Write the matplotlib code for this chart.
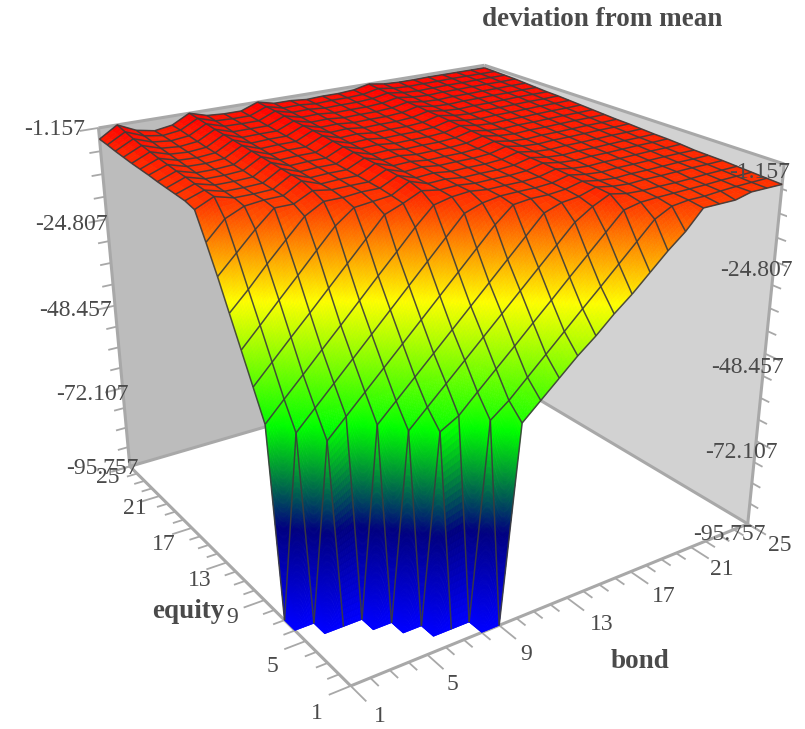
import numpy as np
import matplotlib
matplotlib.use('Agg')
import matplotlib.pyplot as plt
from matplotlib.colors import LinearSegmentedColormap, Normalize
from mpl_toolkits.mplot3d import proj3d
from mpl_toolkits.mplot3d.art3d import Poly3DCollection, Line3DCollection

Z_MIN, Z_MAX = -95.757, -1.157
F = Z_MIN
N = np.nan

bond = list(range(1, 26))
equity = list(range(1, 26))
z_ticks = [-1.157, -24.807, -48.457, -72.107, -95.757]
xy_ticks = [1, 5, 9, 13, 17, 21, 25]

# one row per equity (1 to 25), one column per bond (1 to 25)
deviation = [
    [N, N, N, N, N, N, N, F, F, -46, -42, -38, -34, -30.5, -26.5, -23, -19, -15, -11.5, -7, -7, -7, -6, -6, -6],
    [N, N, N, N, N, F, F, F, -46, -42.6, -38.4, -34.2, -30, -25.8, -21.7, -17.5, -13.3, -9.1, -7, -6.5, -6.5, -6.2, -6, -5.9, -5.8],
    [N, N, N, N, F, F, -48, -45.5, -41.2, -37, -32.8, -28.5, -24.3, -20, -15.8, -11.6, -7.4, -6.5, -6.3, -6.2, -6.1, -6, -5.8, -5.7, -5.6],
    [N, N, N, F, F, -48.4, -44.1, -39.8, -35.5, -31.2, -26.9, -22.6, -18.3, -14, -9.7, -7, -5, -5.8, -6, -5.9, -5.9, -5.8, -5.6, -5.5, -5.4],
    [N, F, F, F, -47.6, -43.2, -38.8, -34.4, -30, -25.6, -21.2, -16.8, -12.4, -8, -6.5, -6, -4.7, -5.4, -5.7, -5.5, -5.5, -5.4, -5.3, -5.3, -5.2],
    [F, F, -50.7, -46.2, -41.7, -37.2, -32.7, -28.2, -23.7, -19.2, -14.7, -10.2, -6.5, -6, -6, -5.6, -4.6, -5.3, -5.6, -5.4, -5.4, -5.3, -5.2, -5.2, -5.1],
    [F, -49.4, -44.8, -40.2, -35.6, -31, -26.4, -21.8, -17.2, -12.6, -8, -6.5, -5.8, -5.7, -5.7, -5.4, -4.4, -5.1, -5.4, -5.2, -5.2, -5.1, -5, -5, -5],
    [-48, -43.3, -38.7, -34, -29.4, -24.7, -20, -15.4, -10.7, -6.5, -5.5, -5.1, -5.6, -5.5, -5.5, -5.2, -4.2, -4.9, -5.2, -5, -5, -4.9, -4.8, -4.8, -4.7],
    [-41, -36.3, -31.6, -27, -22.3, -17.6, -12.9, -8.2, -6.5, -4.5, -5.2, -5, -5.4, -5.3, -5.3, -5, -4, -4.7, -5, -4.8, -4.8, -4.7, -4.6, -4.6, -4.5],
    [-34, -29.3, -24.5, -19.8, -15, -10.3, -7, -6.5, -6, -3.6, -5, -4.8, -5.3, -5.2, -5.2, -4.9, -3.9, -4.6, -4.9, -4.7, -4.7, -4.6, -4.5, -4.5, -4.4],
    [-27, -22.5, -17.6, -13, -8.5, -6, -6, -5.6, -5.6, -3.5, -4.9, -4.6, -5.1, -5, -5, -4.7, -3.7, -4.4, -4.7, -4.5, -4.5, -4.4, -4.3, -4.3, -4.2],
    [-20, -15.5, -11, -7, -7, -4.8, -5.5, -5.4, -5.4, -3.3, -4.7, -4.4, -4.9, -4.8, -4.8, -4.5, -3.5, -4.2, -4.5, -4.3, -4.3, -4.2, -4.1, -4.1, -4],
    [-13.5, -9, -7, -6.5, -6.4, -3.8, -5.4, -5.2, -5.2, -3.1, -4.5, -4.3, -4.8, -4.7, -4.7, -4.4, -3.4, -4.1, -4.4, -4.2, -4.2, -4.1, -4, -4, -3.9],
    [-7.3, -5.2, -6.4, -6.4, -6.2, -3.6, -5.2, -5, -5, -3, -4.3, -4.1, -4.6, -4.5, -4.5, -4.2, -3.2, -3.9, -4.2, -4, -4, -3.9, -3.8, -3.8, -3.7],
    [-6.6, -5, -6.2, -6.2, -6, -3.4, -5, -4.8, -4.8, -2.8, -4.1, -3.9, -4.4, -4.3, -4.3, -4, -3, -3.7, -4, -3.8, -3.8, -3.7, -3.6, -3.6, -3.5],
    [-6.4, -4.8, -6, -6, -5.8, -3.2, -4.8, -4.6, -4.6, -2.6, -3.9, -3.7, -4.2, -4.1, -4.1, -3.8, -2.8, -3.5, -3.8, -3.6, -3.6, -3.5, -3.4, -3.4, -3.3],
    [-6.2, -4.5, -5.8, -5.8, -5.5, -3, -4.6, -4.4, -4.4, -2.4, -3.7, -3.5, -4, -3.9, -3.9, -3.6, -2.6, -3.3, -3.6, -3.4, -3.4, -3.3, -3.2, -3.2, -3.1],
    [-6, -4.3, -5.6, -5.6, -5.3, -2.8, -4.4, -4.2, -4.2, -2.2, -3.5, -3.3, -3.8, -3.7, -3.7, -3.4, -2.4, -3.1, -3.4, -3.2, -3.2, -3.1, -3, -3, -2.9],
    [-5.7, -4, -5.3, -5.4, -5, -2.6, -4.2, -4, -4, -2, -3.3, -3.1, -3.6, -3.5, -3.5, -3.2, -2.3, -2.9, -3.2, -3, -3, -2.9, -2.8, -2.8, -2.8],
    [-5.5, -3.7, -5, -5.2, -4.8, -2.4, -4, -3.8, -3.8, -1.9, -3.1, -3, -3.4, -3.3, -3.3, -3, -2.1, -2.8, -3, -2.8, -2.8, -2.7, -2.7, -2.6, -2.6],
    [-5.3, -3.3, -4.7, -5, -4.6, -2.2, -3.7, -3.6, -3.6, -1.8, -2.9, -2.8, -3.2, -3.1, -3.1, -2.8, -2, -2.6, -2.8, -2.6, -2.6, -2.5, -2.5, -2.4, -2.4],
    [-5, -2.9, -4.4, -4.8, -4.3, -2, -3.4, -3.4, -3.4, -1.6, -2.7, -2.6, -3, -2.9, -2.9, -2.6, -1.8, -2.4, -2.6, -2.4, -2.4, -2.3, -2.3, -2.3, -2.2],
    [-4.7, -2.4, -4, -4.5, -4, -1.7, -3.1, -3.2, -3.2, -1.4, -2.5, -2.4, -2.8, -2.7, -2.7, -2.4, -1.6, -2.2, -2.4, -2.3, -2.2, -2.2, -2.1, -2.1, -2.1],
    [-4.3, -1.8, -3.6, -4.3, -3.7, -1.4, -2.8, -3, -3, -1.3, -2.4, -2.3, -2.7, -2.5, -2.5, -2.3, -1.4, -2, -2.2, -2.1, -2.1, -2, -2, -2, -2],
    [-4, -1.157, -3.3, -4.2, -3.5, -1.157, -2.5, -2.8, -2.8, -1.157, -2.2, -2.2, -2.6, -2.4, -2.4, -2.1, -1.157, -1.8, -2, -2, -1.9, -1.9, -1.9, -1.9, -1.9],
]

GREY = '#a8a8a8'
TEXT = '#4a4a4a'
SERIF = 'Liberation Serif'

fig = plt.figure(figsize=(8.05, 7.29), dpi=100)
ax = fig.add_subplot(projection='3d', computed_zorder=False)
ax.set_xlim(1, 25, view_margin=0)
ax.set_ylim(1, 25, view_margin=0)
ax.set_zlim(Z_MIN, Z_MAX, view_margin=0)
ax.view_init(elev=23.5574, azim=-124.0502)
ax.set_proj_type('persp', focal_length=0.3658)
ax.set_box_aspect((1, 0.9834, 0.8064))
size = 739.19
ax.set_position([(417.76 - size / 2) / 805, (729 - 338.71 - size / 2) / 729, size / 805, size / 729])
ax.set_axis_off()
ax.patch.set_alpha(0)

# walls
left_wall = [(1, 25, Z_MIN), (25, 25, Z_MIN), (25, 25, Z_MAX), (1, 25, Z_MAX)]
right_wall = [(25, 1, Z_MIN), (25, 25, Z_MIN), (25, 25, Z_MAX), (25, 1, Z_MAX)]
ax.add_collection3d(Poly3DCollection([left_wall], facecolors='#bcbcbc', edgecolors='none', zorder=1))
ax.add_collection3d(Poly3DCollection([right_wall], facecolors='#d2d2d2', edgecolors='none', zorder=1))

frame = [
    [(1, 1, Z_MIN), (1, 25, Z_MIN)], [(1, 1, Z_MIN), (25, 1, Z_MIN)],
    [(1, 25, Z_MIN), (25, 25, Z_MIN)], [(25, 1, Z_MIN), (25, 25, Z_MIN)],
    [(1, 25, Z_MIN), (1, 25, Z_MAX)], [(25, 1, Z_MIN), (25, 1, Z_MAX)],
    [(1, 25, Z_MAX), (25, 25, Z_MAX)], [(25, 1, Z_MAX), (25, 25, Z_MAX)],
]
ax.add_collection3d(Line3DCollection(frame, colors=GREY, linewidths=2.2, zorder=1.5))

# tick marks
ticks = []
for v in range(1, 26):
    long_tick = v in xy_ticks
    ticks.append([(1, v, Z_MIN), (-0.1 if long_tick else 0.4, v, Z_MIN)])
    ticks.append([(v, 1, Z_MIN), (v, -0.3 if long_tick else 0.3, Z_MIN)])
step = (z_ticks[0] - z_ticks[1]) / 4
for i in range(17):
    z = Z_MAX - i * step
    long_tick = i % 4 == 0
    ticks.append([(1, 25, z), (0.0 if long_tick else 0.4, 25, z)])
    ticks.append([(25, 1, z), (25, 0.0 if long_tick else 0.4, z)])
ax.add_collection3d(Line3DCollection(ticks, colors=GREY, linewidths=1.3, zorder=1.5))

# surface, split up so the colour runs smoothly with the height
cmap = LinearSegmentedColormap.from_list('dev', ['#0000ff', '#000080', '#00ff00', '#ffff00', '#ff0000'])
norm = Normalize(Z_MIN, Z_MAX)
Z = np.array(deviation)
polys = []
heights = []
for j in range(24):
    for i in range(24):
        c = Z[j:j + 2, i:i + 2]
        if np.isnan(c).any():
            continue
        n = int(np.clip(np.ceil((c.max() - c.min()) / 1.2), 2, 30))
        t = np.linspace(0, 1, n + 1)
        for a in range(n):
            for b in range(n):
                q = []
                for u, v in [(t[a], t[b]), (t[a + 1], t[b]), (t[a + 1], t[b + 1]), (t[a], t[b + 1])]:
                    h = (1 - u) * (1 - v) * c[0, 0] + u * (1 - v) * c[0, 1] + (1 - u) * v * c[1, 0] + u * v * c[1, 1]
                    q.append((bond[i] + u, equity[j] + v, h))
                polys.append(q)
                heights.append(sum(p[2] for p in q) / 4)
colours = cmap(norm(np.array(heights)))
ax.add_collection3d(Poly3DCollection(polys, facecolors=colours, edgecolors=colours, linewidths=0.4, zorder=2))

# mesh lines, none along the bottom where both ends sit on the floor
mesh = []
for j in range(25):
    for i in range(25):
        for nj, ni in [(j, i + 1), (j + 1, i)]:
            if nj > 24 or ni > 24 or np.isnan(Z[j, i]) or np.isnan(Z[nj, ni]):
                continue
            if Z[j, i] == F and Z[nj, ni] == F:
                continue
            mesh.append([(bond[i], equity[j], Z[j, i]), (bond[ni], equity[nj], Z[nj, ni])])
ax.add_collection3d(Line3DCollection(mesh, colors='#3c3c3c', linewidths=1.1, alpha=0.9, zorder=3))


def label(text, x, y, z, dx, dy):
    X, Y, _ = proj3d.proj_transform(x, y, z, ax.get_proj())
    ax.annotate(text, (X, Y), xytext=(dx, -dy), textcoords='offset pixels', ha='center', va='center',
                family=SERIF, fontsize=17, color=TEXT, zorder=5, annotation_clip=False)


fig.canvas.draw()
equity_off = [(-34, 28), (-33, 25), (-32, 17), (-27, 18), (-28, 17), (-25, 13), (-22, 11)]
bond_off = [(29, 31), (25, 30), (27, 29), (35, 27), (33, 25), (31, 22), (32, 22)]
left_off = [(-44, 2), (-36, 5), (-40, 5), (-30, 7), (-28, 2)]
right_off = [(-25, 9), (-18, 9), (-18, 14), (-15, 12), (-18, 11)]
for v, a, b in zip(xy_ticks, equity_off, bond_off):
    label(str(v), 1, v, Z_MIN, *a)
    label(str(v), v, 1, Z_MIN, *b)
for z, a, b in zip(z_ticks, left_off, right_off):
    label('%.3f' % z, 1, 25, z, *a)
    label('%.3f' % z, 25, 1, z, *b)

fig.text(602 / 805, 1 - 20 / 729, 'deviation from mean', family=SERIF, weight='bold', fontsize=19.5,
         color=TEXT, ha='center', va='center')
fig.text(188 / 805, 1 - 612 / 729, 'equity', family=SERIF, weight='bold', fontsize=19.5,
         color=TEXT, ha='center', va='center')
fig.text(640 / 805, 1 - 662 / 729, 'bond', family=SERIF, weight='bold', fontsize=19.5,
         color=TEXT, ha='center', va='center')

fig.savefig('out.png', dpi=100)
